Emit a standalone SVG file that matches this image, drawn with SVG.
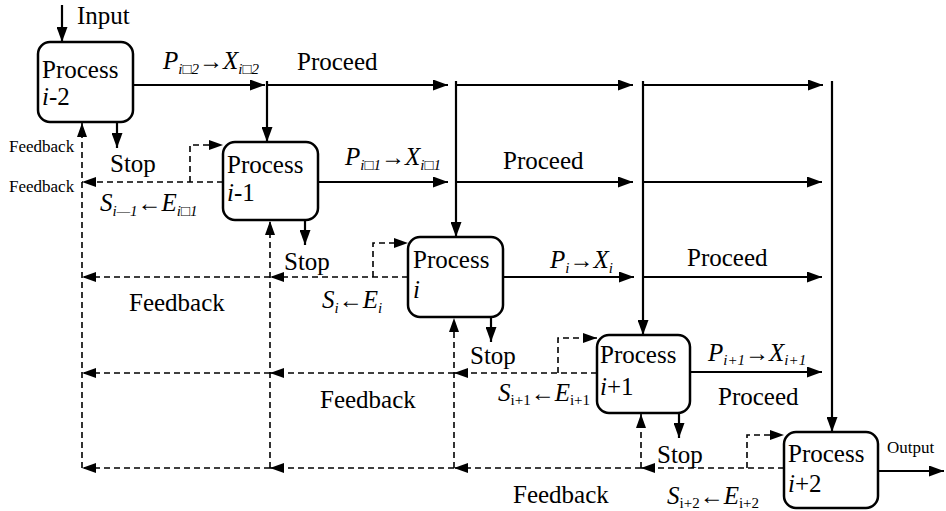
<svg xmlns="http://www.w3.org/2000/svg" width="946" height="511" viewBox="0 0 946 511" font-family="'Liberation Serif', Tinos, 'DejaVu Serif', serif">
<style>
text{font-family:'Liberation Serif',Tinos,'Times New Roman','DejaVu Serif',serif;fill:#000}
.t{font-size:25px}
.s{font-size:17px}
.m{font-size:25px;font-style:italic}
.sub{font-size:15px}
.ar{font-style:normal;font-size:24px}
.box{fill:#fff;stroke:#000;stroke-width:2.5}
.ln{fill:none;stroke:#000;stroke-width:2.2}
.ds{fill:none;stroke:#000;stroke-width:1.6;stroke-dasharray:6,4}
</style>
<defs>
<marker id="a" markerUnits="userSpaceOnUse" markerWidth="15" markerHeight="11" refX="15" refY="5.5" orient="auto"><path d="M0,0 L15,5.5 L0,11 z" fill="#000"/></marker>
<marker id="d" markerUnits="userSpaceOnUse" markerWidth="14" markerHeight="10" refX="14" refY="5" orient="auto"><path d="M0,0 L14,5 L0,10 z" fill="#000"/></marker>
</defs>
<g id="connectors">
<path class="ln" d="M62,5 L62,42" marker-end="url(#a)"/>
<path class="ln" d="M133,85 L265,85" marker-end="url(#a)"/>
<path class="ln" d="M267,85 L448,85" marker-end="url(#a)"/>
<path class="ln" d="M456,85 L633,85" marker-end="url(#a)"/>
<path class="ln" d="M643,85 L823,85" marker-end="url(#a)"/>
<path class="ln" d="M267,81 L267,142" marker-end="url(#a)"/>
<path class="ln" d="M456,81 L456,237" marker-end="url(#a)"/>
<path class="ln" d="M643,81 L643,335" marker-end="url(#a)"/>
<path class="ln" d="M832,81 L832,432" marker-end="url(#a)"/>
<path class="ln" d="M318,182 L448,182" marker-end="url(#a)"/>
<path class="ln" d="M456,182 L633,182" marker-end="url(#a)"/>
<path class="ln" d="M643,182 L822,182" marker-end="url(#a)"/>
<path class="ln" d="M503,277 L634,277" marker-end="url(#a)"/>
<path class="ln" d="M643,277 L822,277" marker-end="url(#a)"/>
<path class="ln" d="M690,372 L822,372" marker-end="url(#a)"/>
<path class="ln" d="M878,471 L944,471" marker-end="url(#a)"/>
<path class="ln" d="M117,122 L117,148" marker-end="url(#a)"/>
<path class="ln" d="M305,220 L305,245" marker-end="url(#a)"/>
<path class="ln" d="M491,317 L491,342" marker-end="url(#a)"/>
<path class="ln" d="M679,413 L679,438" marker-end="url(#a)"/>
<path class="ds" d="M82,468 L82,123" marker-end="url(#d)"/>
<path class="ds" d="M270,468 L270,221" marker-end="url(#d)"/>
<path class="ds" d="M454,468 L454,318" marker-end="url(#d)"/>
<path class="ds" d="M641,468 L641,414" marker-end="url(#d)"/>
<path class="ds" d="M223,182 L82,182" marker-end="url(#d)"/>
<path class="ds" d="M408,277 L270,277" marker-end="url(#d)"/>
<path class="ds" d="M270,277 L82,277" marker-end="url(#d)"/>
<path class="ds" d="M597,373 L454,373" marker-end="url(#d)"/>
<path class="ds" d="M454,373 L270,373" marker-end="url(#d)"/>
<path class="ds" d="M270,373 L82,373" marker-end="url(#d)"/>
<path class="ds" d="M784,468 L641,468" marker-end="url(#d)"/>
<path class="ds" d="M641,468 L454,468" marker-end="url(#d)"/>
<path class="ds" d="M454,468 L270,468" marker-end="url(#d)"/>
<path class="ds" d="M270,468 L82,468" marker-end="url(#d)"/>
<path class="ds" d="M190,182 L190,145 L223,145" marker-end="url(#d)"/>
<path class="ds" d="M373,277 L373,243 L408,243" marker-end="url(#d)"/>
<path class="ds" d="M558,373 L558,338 L597,338" marker-end="url(#d)"/>
<path class="ds" d="M747,468 L747,435 L784,435" marker-end="url(#d)"/>
</g>
<g id="labels">
<text class="t" x="77" y="24">Input</text>
<text class="s" x="9" y="152">Feedback</text>
<text class="s" x="9" y="192">Feedback</text>
<text class="m" x="163" y="69">P<tspan class="sub" dy="5">i□2</tspan><tspan class="ar" dy="-5">→</tspan>X<tspan class="sub" dy="5">i□2</tspan></text>
<text class="t" x="297" y="70">Proceed</text>
<text class="t" x="110" y="172">Stop</text>
<text class="m" x="345" y="165">P<tspan class="sub" dy="5">i□1</tspan><tspan class="ar" dy="-5">→</tspan>X<tspan class="sub" dy="5">i□1</tspan></text>
<text class="t" x="503" y="169">Proceed</text>
<text class="m" x="100" y="211">S<tspan class="sub" dy="5">i—1</tspan><tspan class="ar" dy="-5">←</tspan>E<tspan class="sub" dy="5">i□1</tspan></text>
<text class="t" x="284" y="270">Stop</text>
<text class="m" x="550" y="268">P<tspan class="sub" dy="5">i</tspan><tspan class="ar" dy="-5">→</tspan>X<tspan class="sub" dy="5">i</tspan></text>
<text class="t" x="687" y="266">Proceed</text>
<text class="m" x="322" y="308">S<tspan class="sub" dy="5">i</tspan><tspan class="ar" dy="-5">←</tspan>E<tspan class="sub" dy="5">i</tspan></text>
<text class="t" x="129" y="311">Feedback</text>
<text class="t" x="470" y="364">Stop</text>
<text class="m" x="708" y="361">P<tspan class="sub" dy="4" font-size="12">i+1</tspan><tspan class="ar" dy="-4">→</tspan>X<tspan class="sub" dy="4" font-size="12">i+1</tspan></text>
<text class="t" x="718" y="405">Proceed</text>
<text class="m" x="498" y="401">S<tspan class="sub" dy="4" font-style="normal">i+1</tspan><tspan class="ar" dy="-4">←</tspan>E<tspan class="sub" dy="4" font-style="normal">i+1</tspan></text>
<text class="t" x="320" y="408">Feedback</text>
<text class="t" x="657" y="463">Stop</text>
<text class="s" x="887" y="453">Output</text>
<text class="t" x="513" y="503">Feedback</text>
<text class="m" x="667" y="504">S<tspan class="sub" dy="4" font-style="normal">i+2</tspan><tspan class="ar" dy="-4">←</tspan>E<tspan class="sub" dy="4" font-style="normal">i+2</tspan></text>
</g>
<g id="process-i-2">
<rect class="box" x="38" y="42" width="95" height="80" rx="12"/>
<text class="t" x="42" y="78">Process</text>
<text class="t" x="42" y="105"><tspan font-style="italic">i</tspan>-2</text>
</g>
<g id="process-i-1">
<rect class="box" x="223" y="142" width="95" height="78" rx="12"/>
<text class="t" x="227" y="173">Process</text>
<text class="t" x="227" y="201"><tspan font-style="italic">i</tspan>-1</text>
</g>
<g id="process-i">
<rect class="box" x="408" y="237" width="95" height="80" rx="12"/>
<text class="t" x="413" y="268">Process</text>
<text class="t" x="413" y="298"><tspan font-style="italic">i</tspan></text>
</g>
<g id="process-i+1">
<rect class="box" x="597" y="335" width="93" height="78" rx="12"/>
<text class="t" x="600" y="363">Process</text>
<text class="t" x="600" y="395"><tspan font-style="italic">i</tspan>+1</text>
</g>
<g id="process-i+2">
<rect class="box" x="784" y="432" width="94" height="76" rx="12"/>
<text class="t" x="788" y="462">Process</text>
<text class="t" x="788" y="492"><tspan font-style="italic">i</tspan>+2</text>
</g>
</svg>
